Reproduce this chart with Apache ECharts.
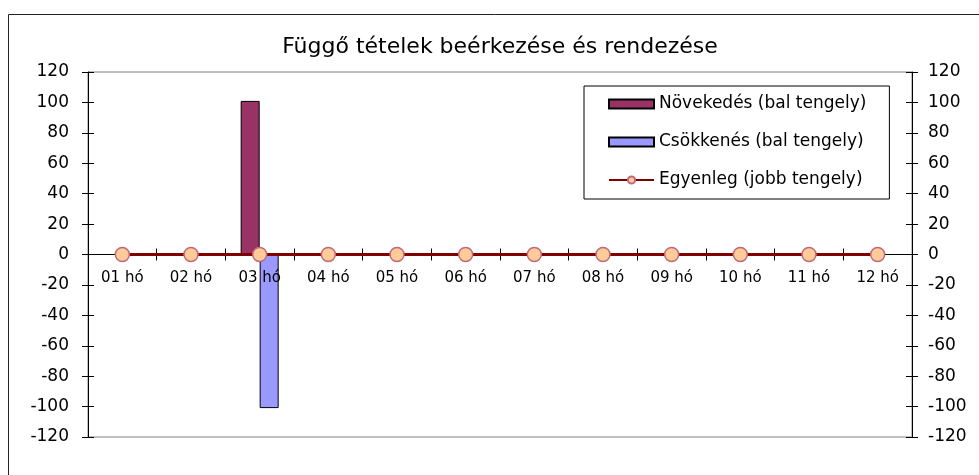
<!DOCTYPE html>
<html>
<head>
<meta charset="utf-8">
<script src="https://cdn.jsdelivr.net/npm/echarts@6/dist/echarts.min.js"></script>
<style>
html,body{margin:0;padding:0;background:#fff;}
#chart{width:979px;height:475px;}
</style>
</head>
<body>
<div id="chart"></div>
<script>
var titleText = 'Függő tételek beérkezése és rendezése';
var categories = ['01 hó','02 hó','03 hó','04 hó','05 hó','06 hó','07 hó','08 hó','09 hó','10 hó','11 hó','12 hó'];
var seriesNames = ['Növekedés (bal tengely)','Csökkenés (bal tengely)','Egyenleg (jobb tengely)'];
var novekedes = [0,0,101,0,0,0,0,0,0,0,0,0];
var csokkenes = [0,0,-101,0,0,0,0,0,0,0,0,0];
var egyenleg  = [0,0,0,0,0,0,0,0,0,0,0,0];
var axisMin = -120, axisMax = 120, axisStep = 20;

var FONT = 'DejaVu Sans';
var GRID_TOP = 72, GRID_BOTTOM = 38, H = 475;
var plotH = H - GRID_TOP - GRID_BOTTOM;
var zeroOffset = plotH * (axisMax / (axisMax - axisMin));

var chart = echarts.init(document.getElementById('chart'), null, {renderer:'canvas'});

function yAx(pos, inside, showLabel, showLine, margin){
  return {
    type:'value', gridIndex:0, position:pos, min:axisMin, max:axisMax, interval:axisStep,
    axisLine:{show:showLine, onZero:false, lineStyle:{color:'#000', width:1}},
    axisTick:{show:true, inside:inside, length:6, lineStyle:{color:'#000', width:1}},
    axisLabel:{show:showLabel, color:'#000', fontFamily:FONT, fontSize:17, margin:margin},
    splitLine:{show:false}
  };
}

var option = {
  animation:false,
  backgroundColor:'#fff',
  graphic:[{
    type:'rect', left:6, top:12, shape:{x:0,y:0,width:1000,height:500},
    style:{fill:'none', stroke:'#222', lineWidth:1}, z:-10
  }],
  title:{
    text:titleText, left:500, top:36, textAlign:'center', padding:0,
    textStyle:{fontFamily:FONT, fontSize:22, fontWeight:'normal', color:'#000'}
  },
  legend:{
    orient:'vertical', left:584, top:86,
    padding:[8,23,9,24], itemGap:18, itemWidth:45, itemHeight:9,
    borderColor:'#000', borderWidth:1, backgroundColor:'#fff',
    textStyle:{fontFamily:FONT, fontSize:17, color:'#000', lineHeight:20},
    data:[
      {name:seriesNames[0], icon:'rect'},
      {name:seriesNames[1], icon:'rect'},
      {name:seriesNames[2]}
    ]
  },
  grid:[
    {left:88, right:67, top:GRID_TOP, bottom:GRID_BOTTOM, show:true, borderColor:'#808080', borderWidth:1},
    {left:88, right:67, top:GRID_TOP, height:zeroOffset, show:false}
  ],
  xAxis:[{
    type:'category', data:categories, gridIndex:0, position:'bottom', z:3,
    axisLine:{show:true, onZero:true, lineStyle:{color:'#000', width:1}},
    axisTick:{show:true, inside:false, length:6, lineStyle:{color:'#000'}},
    axisLabel:{show:false},
    splitLine:{show:false}
  },{
    type:'category', data:categories, gridIndex:0, position:'bottom', z:3,
    axisLine:{show:false, onZero:true},
    axisTick:{show:true, inside:true, length:6, lineStyle:{color:'#000'}},
    axisLabel:{show:false},
    splitLine:{show:false}
  },{
    type:'category', data:categories, gridIndex:1, position:'bottom', z:6,
    axisLine:{show:false, onZero:false},
    axisTick:{show:false},
    axisLabel:{show:true, color:'#000', fontFamily:FONT, fontSize:15, margin:16, interval:0},
    splitLine:{show:false}
  }],
  yAxis:[
    yAx('left', false, true, true, 19),
    yAx('right', false, true, true, 16),
    yAx('left', true, false, false, 16),
    yAx('right', true, false, false, 16),
    {type:'value', gridIndex:1, min:0, max:1, show:false}
  ],
  series:[{
    name:seriesNames[0], type:'bar', xAxisIndex:0, yAxisIndex:0,
    data:novekedes, barWidth:19, barGap:'0%', z:2,
    itemStyle:{color:'#993366', borderColor:'#000', borderWidth:1}
  },{
    name:seriesNames[1], type:'bar', xAxisIndex:0, yAxisIndex:0,
    data:csokkenes, barWidth:19, barGap:'0%', z:2,
    itemStyle:{color:'#9999FF', borderColor:'#000', borderWidth:1}
  },{
    name:seriesNames[2], type:'line', xAxisIndex:0, yAxisIndex:1,
    data:egyenleg, z:5,
    symbol:'circle', symbolSize:14, showAllSymbol:true,
    lineStyle:{color:'#800000', width:3},
    itemStyle:{color:'#FFCC99', borderColor:'#C06878', borderWidth:1.5}
  }]
};
chart.setOption(option);
</script>
</body>
</html>
